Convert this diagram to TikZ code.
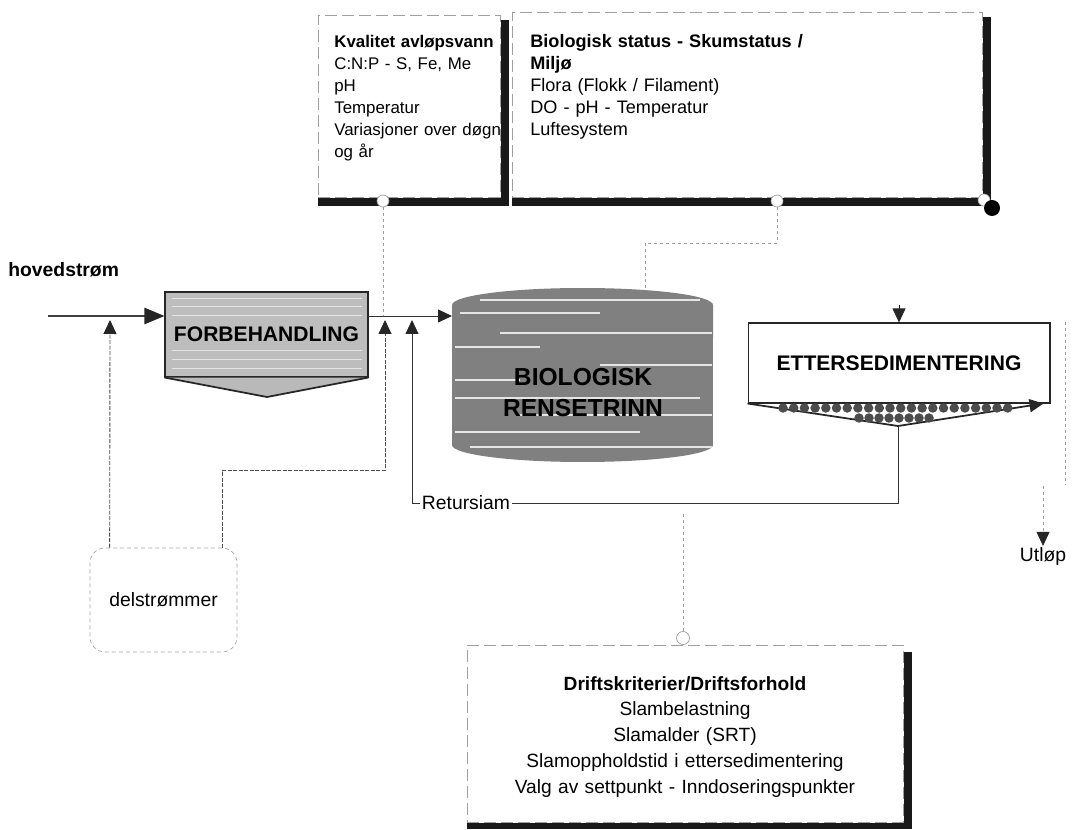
\documentclass[tikz,border=0pt]{standalone}
\usepackage{fontspec}
\setmainfont{Liberation Sans}
\usetikzlibrary{arrows.meta}
\definecolor{biogray}{gray}{0.5}
\definecolor{forbgray}{gray}{0.74}

\begin{document}
\begin{tikzpicture}[
    x=0.02cm, y=-0.02cm,
    frame/.style={rectangle, draw=gray!75, dash pattern=on 0.24cm off 0.1cm, line width=0.5pt, fill=white, inner sep=0pt, anchor=north west},
    info/.style={anchor=base west, text width=#1, align=left, inner sep=0pt, font=\fontsize{9.6pt}{12.5pt}\selectfont},
    drifttext/.style={anchor=base, text width=8.4cm, align=center, inner sep=0pt, font=\fontsize{10.9pt}{14.7pt}\selectfont},
    tank/.style={rectangle, draw=black!85, line width=0.6pt, inner sep=0pt, font=\bfseries\fontsize{12pt}{14pt}\selectfont},
    port/.style={circle, draw=gray!75, fill=white, minimum size=0.24cm, inner sep=0pt},
    lbl/.style={inner sep=1pt, font=\fontsize{11pt}{13pt}\selectfont},
    delbox/.style={rectangle, rounded corners=0.3cm, draw=gray!70, dash pattern=on 0.08cm off 0.06cm, minimum width=2.94cm, minimum height=2.08cm, font=\fontsize{11pt}{13pt}\selectfont},
    dline/.style={draw=gray!75, dash pattern=on 0.06cm off 0.06cm, line width=0.5pt},
    dflow/.style={draw=gray!60!black, dash pattern=on 0.08cm off 0.03cm, line width=0.5pt},
    flow/.style={draw=black!80, line width=0.5pt},
    mainline/.style={draw=black!75, line width=1.4pt, -{Triangle[width=0.32cm, length=0.4cm, color=black!85]}},
    tip/.style={-{Triangle[width=0.26cm, length=0.28cm, color=black!85]}},
    tankline/.style={draw=black!85, line width=1pt},
    sludge/.style={fill=black!70}
]
\useasboundingbox (0,0) rectangle (1074,830);

\node[frame, minimum width=3.64cm, minimum height=3.64cm] (kval) at (318,15) {};
\node[frame, minimum width=9.4cm, minimum height=3.7cm] (biostat) at (512,12) {};
\node[frame, minimum width=8.72cm, minimum height=3.54cm] (drift) at (467,645) {};

\fill[black!90] ([yshift=-0.1cm]kval.north east) rectangle ([xshift=0.16cm, yshift=-0.16cm]kval.south east);
\fill[black!90] (kval.south west) rectangle ([xshift=0.16cm, yshift=-0.16cm]kval.south east);
\fill[black!90] ([yshift=-0.1cm]biostat.north east) rectangle ([xshift=0.16cm, yshift=-0.16cm]biostat.south east);
\fill[black!90] (biostat.south west) rectangle ([xshift=0.16cm, yshift=-0.16cm]biostat.south east);
\fill[black!90] ([yshift=-0.14cm]drift.north east) rectangle ([xshift=0.16cm, yshift=-0.12cm]drift.south east);
\fill[black!90] (drift.south west) rectangle ([xshift=0.16cm, yshift=-0.12cm]drift.south east);

\node[info=3.4cm] (kvaltxt) at (334,48) {\textbf{Kvalitet avløpsvann}\\C:N:P - S, Fe, Me\\pH\\Temperatur\\Variasjoner over døgn\\og år};
\node[info=8.6cm, font=\fontsize{10.3pt}{12.5pt}\selectfont] (biotxt) at (530,48) {\textbf{Biologisk status - Skumstatus /}\\\textbf{Miljø}\\Flora (Flokk / Filament)\\DO - pH - Temperatur\\Luftesystem};
\node[drifttext] (drifttxt) at (685,690) {\textbf{Driftskriterier/Driftsforhold}\\Slambelastning\\Slamalder (SRT)\\Slamoppholdstid i ettersedimentering\\Valg av settpunkt - Inndoseringspunkter};

\node[port] (kvalport) at (383,201) {};
\node[port] (bioport) at (777,201) {};
\node[port] (cornerport) at (984,200) {};
\node[circle, fill=black, minimum size=0.32cm, inner sep=0pt] (cornerdot) at (992,208) {};
\node[port, minimum size=0.26cm] (driftport) at (683,638) {};

\node[anchor=base west, inner sep=0pt, font=\bfseries\fontsize{11pt}{13pt}\selectfont] (hoved) at (8,277) {hovedstrøm};

\node[tank, fill=forbgray, minimum width=4.06cm, minimum height=1.7cm] (forb) at (266.5,334.5) {};
\foreach \yy in {298,306,315,350,359,368}
    \draw[white, opacity=0.6, line width=0.5pt] (172,\yy) -- (362,\yy);
\node[font=\bfseries\fontsize{12pt}{14pt}\selectfont, inner sep=0pt] (forbtxt) at (forb.center) {FORBEHANDLING};
\filldraw[fill=gray!55, draw=black!85, line width=1pt] (forb.south west) -- (267,397) -- (forb.south east);

\fill[biogray] (452,305) -- (452,445) arc[start angle=180, end angle=360, x radius=2.61cm, y radius=0.34cm] -- (713,305) arc[start angle=0, end angle=180, x radius=2.61cm, y radius=0.34cm] -- cycle;
\begin{scope}
    \clip (452,305) -- (452,445) arc[start angle=180, end angle=360, x radius=2.61cm, y radius=0.34cm] -- (713,305) arc[start angle=0, end angle=180, x radius=2.61cm, y radius=0.34cm] -- cycle;
    \foreach \yy/\xa/\xb in {300/480/700, 313/460/600, 333/500/712, 347/455/540, 365/600/712, 380/455/520, 398/455/700, 415/520/712, 432/455/640, 447/470/712}
        \draw[white, opacity=0.8, line width=0.7pt] (\xa,\yy) -- (\xb,\yy);
\end{scope}
\node[anchor=base, text width=4.6cm, align=center, inner sep=0pt, font=\bfseries\fontsize{14pt}{17.6pt}\selectfont] (bio) at (583,386) {BIOLOGISK\\RENSETRINN};
\coordinate (bioin) at (452,316);
\coordinate (biotop) at (645,290);

\node[tank, fill=white, minimum width=6.04cm, minimum height=1.6cm] (etter) at (899,363) {ETTERSEDIMENTERING};
\coordinate (ettbot) at (898,426);
\draw[tankline] (etter.south west) -- (ettbot);
\draw[tankline, tip] (ettbot) -- ([xshift=-0.14cm]etter.south east);
\foreach \i in {0,...,21}
    \fill[sludge] (783+\i*10.7,408) circle[radius=0.095cm];
\foreach \i in {0,...,7}
    \fill[sludge] (859+\i*10,418) circle[radius=0.095cm];
\draw[tip] ([yshift=0.34cm]etter.north) -- (etter.north);

\node[lbl] (utlop) at (1043,557) {Utløp};
\draw[dline] ([xshift=0.3cm]etter.north east) -- ++(0,162);
\draw[dline, tip] (utlop.north |- 0,486) -- (utlop.north);

\node[delbox] (delst) at (163.5,600) {delstrømmer};
\node[lbl, fill=white] (ret) at (466,503) {Retursiam};

\coordinate (start) at (48,316);
\coordinate (in1) at (110,320);
\coordinate (in2) at (385,320);
\coordinate (in3) at (412,320);

\draw[mainline] (start) -- (forb.west |- start);
\draw[flow, tip] (forb.east |- start) -- (bioin);
\draw[dline] (kvalport) -- (kvalport |- start);
\draw[dline] (bioport) -- ++(0,42) -| (biotop);
\draw[dflow, tip] ([xshift=0.4cm]delst.north west) -- (in1);
\draw[dflow, tip] ([xshift=-0.3cm]delst.north east) -- ++(0,-77) -| (in2);
\draw[flow] (ettbot) |- (ret.east);
\draw[flow, tip] (ret.west) -| (in3);
\draw[dline] (driftport) -- (driftport |- ret.south);
\end{tikzpicture}
\end{document}
